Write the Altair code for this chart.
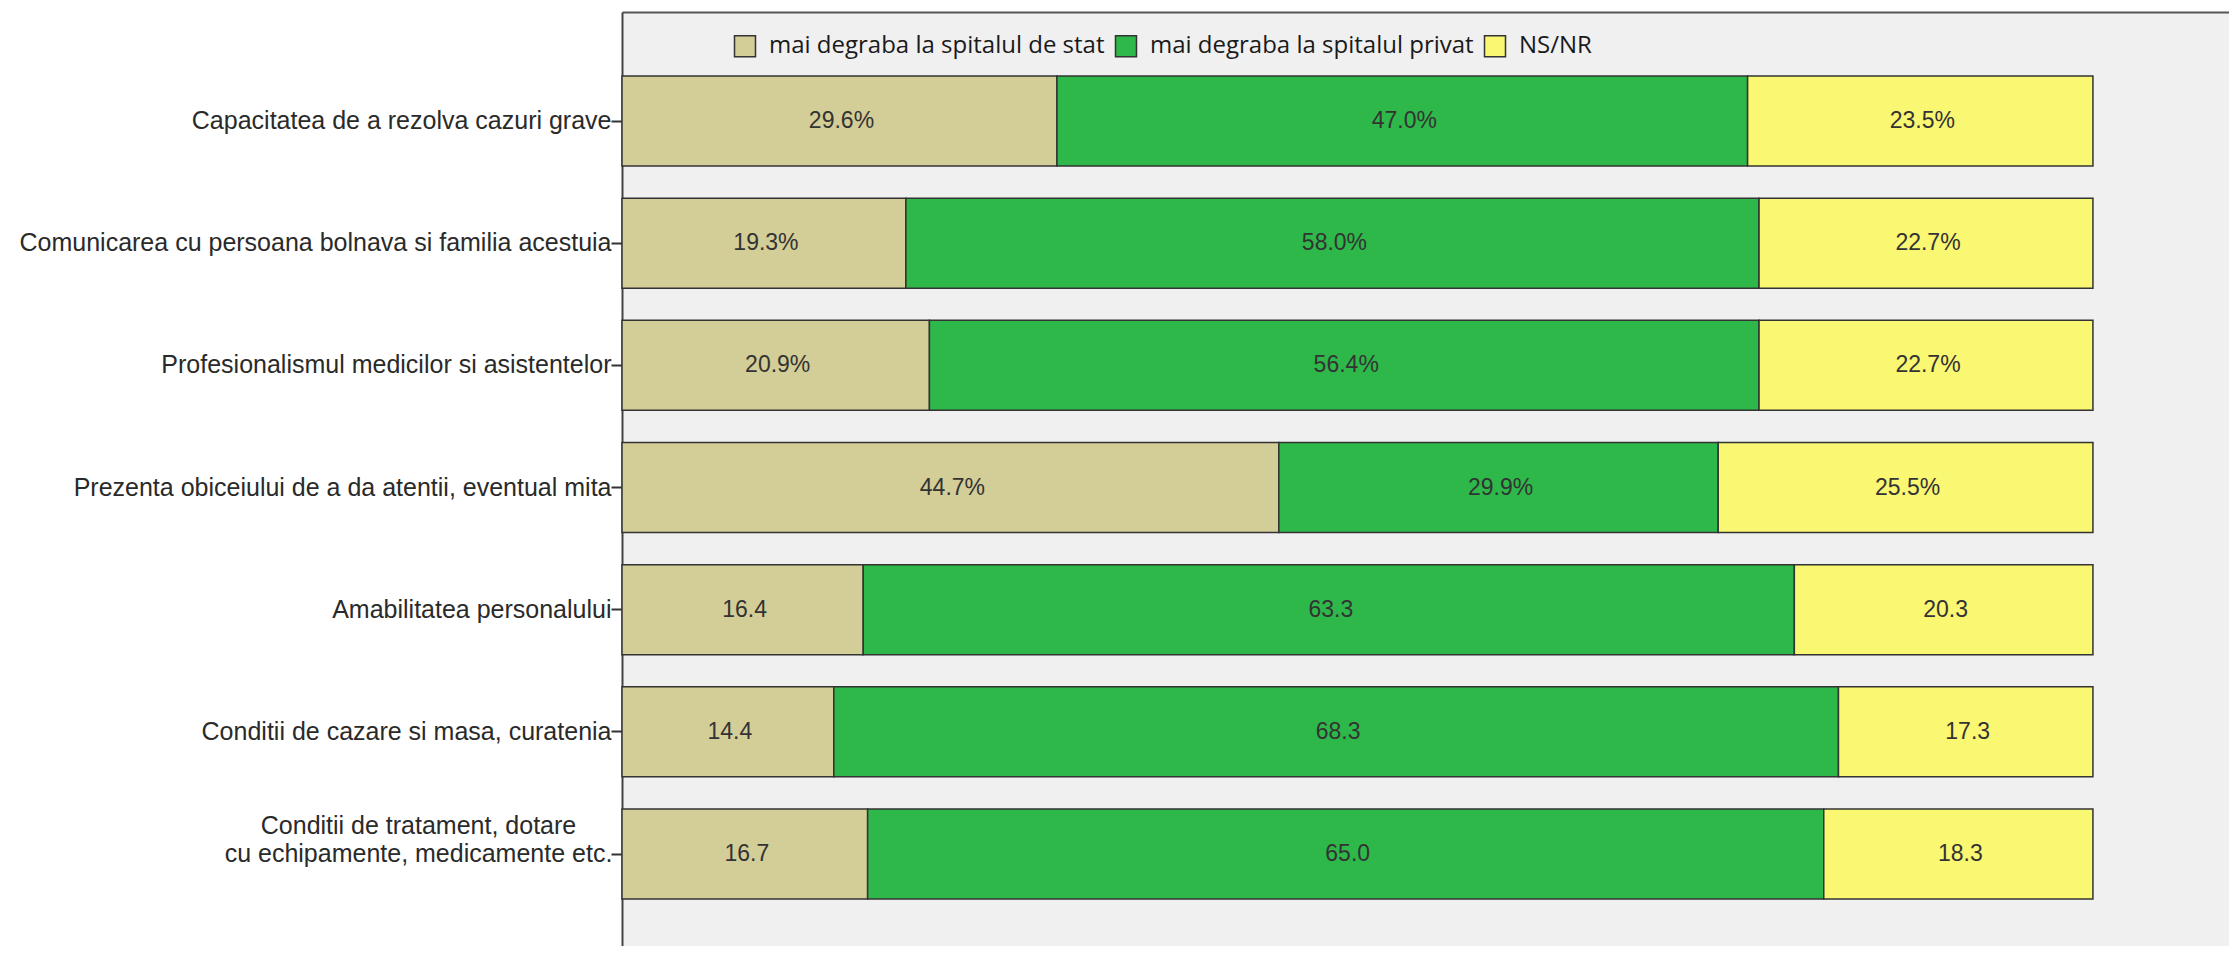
import altair as alt
import pandas as pd

categories = [
    "Capacitatea de a rezolva cazuri grave",
    "Comunicarea cu persoana bolnava si familia acestuia",
    "Profesionalismul medicilor si asistentelor",
    "Prezenta obiceiului de a da atentii, eventual mita",
    "Amabilitatea personalului",
    "Conditii de cazare si masa, curatenia",
    "Conditii de tratament, dotare\ncu echipamente, medicamente etc.",
]
series = ["mai degraba la spitalul de stat", "mai degraba la spitalul privat", "NS/NR"]
stat_values = [29.6, 19.3, 20.9, 44.7, 16.4, 14.4, 16.7]
privat_values = [47.0, 58.0, 56.4, 29.9, 63.3, 68.3, 65.0]
nsnr_values = [23.5, 22.7, 22.7, 25.5, 20.3, 17.3, 18.3]
show_percent = [True, True, True, True, False, False, False]
colors = ["#D3CD98", "#2EB84A", "#FAF773"]

rows = []
for i, cat in enumerate(categories):
    for j, (s, vals) in enumerate(zip(series, [stat_values, privat_values, nsnr_values])):
        v = vals[i]
        rows.append({
            "cat": cat,
            "series": s,
            "order": j,
            "value": v,
            "label": f"{v:.1f}%" if show_percent[i] else f"{v:.1f}",
        })
df = pd.DataFrame(rows)

multi = "indexof(datum.value, '\\n') >= 0"

y_enc = alt.Y(
    "cat:N",
    sort=categories,
    title=None,
    scale=alt.Scale(paddingInner=0.2633, paddingOuter=0.4543, align=0.5766),
    axis=alt.Axis(
        labelFont="Liberation Sans",
        labelFontSize=25,
        labelColor="#2a2a2a",
        labelLimit=700,
        labelLineHeight=28,
        labelExpr="split(datum.label, '\\n')",
        labelAlign={"condition": {"test": multi, "value": "center"}, "value": "right"},
        labelPadding={"condition": {"test": multi, "value": 193}, "value": 0},
        labelOffset={"condition": {"test": multi, "value": -28}, "value": 0},
        tickSize=11,
        tickColor="#333333",
        tickWidth=2,
        domainColor="#444444",
        domainWidth=2,
        grid=False,
    ),
)

base = alt.Chart(df).transform_stack(
    stack="value",
    groupby=["cat"],
    sort=[alt.SortField("order", order="ascending")],
    as_=["x0", "x1"],
    offset="normalize",
).transform_calculate(mid="(datum.x0 + datum.x1) / 2")

xscale = alt.Scale(domain=[0, 1.0925], nice=False, zero=True)

bars = base.mark_bar(stroke="#333333", strokeWidth=1.5).encode(
    x=alt.X(
        "x0:Q",
        scale=xscale,
        title=None,
        axis=alt.Axis(orient="top", labels=False, ticks=False, grid=False,
                      domainColor="#555555", domainWidth=2),
    ),
    x2="x1:Q",
    y=y_enc,
    fill=alt.Fill(
        "series:N",
        sort=series,
        scale=alt.Scale(domain=series, range=colors),
        title=None,
        legend=alt.Legend(
            orient="none",
            legendX=111,
            legendY=22,
            direction="horizontal",
            symbolType="square",
            symbolSize=441,
            symbolStrokeColor="#333333",
            symbolStrokeWidth=1.5,
            symbolOpacity=1,
            labelFont="Open Sans",
            labelFontSize=24,
            labelColor="#1a1a1a",
            labelOffset=12,
            columnPadding=7,
            labelLimit=600,
            padding=0,
        ),
    ),
)

texts = base.mark_text(
    font="Liberation Sans", fontSize=23, color="#333333", baseline="middle", align="center", dx=2
).encode(
    x=alt.X("mid:Q", scale=xscale),
    y=alt.Y("cat:N", sort=categories),
    text="label:N",
)

chart = alt.layer(bars, texts).properties(
    width=1607,
    height=934,
    autosize=alt.AutoSizeParams(type="none"),
    padding={"left": 614, "top": 4, "right": 0, "bottom": 0},
    background="white",
).configure_view(fill="#F0F0F0", strokeOpacity=0)

chart.save("out.html", embed_options={"renderer": "svg", "actions": False})
